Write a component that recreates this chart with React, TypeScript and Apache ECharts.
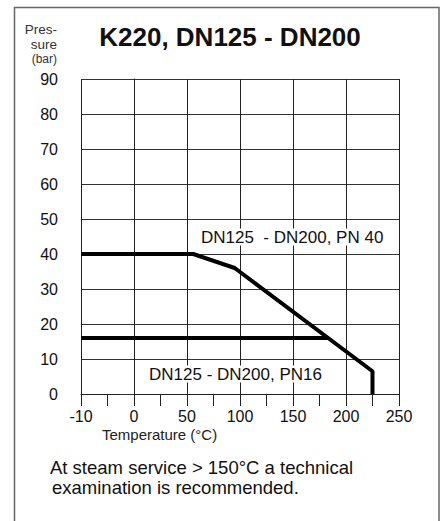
import React, { useEffect, useRef } from "react";
import * as echarts from "echarts";

// Temperature axis: labels are equally spaced; -10 occupies the slot of one 50-step
const xTickLabels = ["-10", "0", "50", "100", "150", "200", "250"];
const yTickLabels = ["0", "10", "20", "30", "40", "50", "60", "70", "80", "90"];

const pn40Temps = [-10, 56, 95, 225, 225];
const pn40Press = [40, 40, 36, 6.5, 0];

const pn16Temps = [-10, 183];
const pn16Press = [16, 16];

const pn40Label = "DN125  - DN200, PN 40";
const pn16Label = "DN125 - DN200, PN16";
const titleText = "K220, DN125 - DN200";
const yNameLines = ["Pres-", "sure", "(bar)"];
const xName = "Temperature (°C)";
const noteLines = [
  "At steam service > 150°C a technical",
  "examination is recommended.",
];

// map real temperature onto the drawing axis (the -10..0 segment is stretched to one 50 slot)
const toAxis = (t: number) => (t < 0 ? t * 5 : t);

const FONT = "'Liberation Sans', Arial, Helvetica, sans-serif";

export default function App() {
  const ref = useRef<HTMLDivElement>(null);

  useEffect(() => {
    if (!ref.current) return;
    const chart = echarts.init(ref.current, null, { renderer: "svg" });
    const pn40 = pn40Temps.map((t, i) => [toAxis(t), pn40Press[i]]);
    const pn16 = pn16Temps.map((t, i) => [toAxis(t), pn16Press[i]]);

    chart.setOption({
      animation: false,
      backgroundColor: "#ffffff",
      textStyle: { fontFamily: FONT },
      grid: { left: 81, right: 44, top: 79, bottom: 127, containLabel: false },
      xAxis: {
        type: "value",
        min: -50,
        max: 250,
        interval: 50,
        axisLine: { show: true, lineStyle: { color: "#222", width: 1 } },
        axisTick: { show: true, length: 12, lineStyle: { color: "#222", width: 1 } },
        minorTick: { show: true, splitNumber: 2, length: 12, lineStyle: { color: "#222", width: 1 } },
        splitLine: { show: true, lineStyle: { color: "#222", width: 1 } },
        axisLabel: {
          margin: 14,
          fontSize: 16,
          color: "#111",
          fontFamily: FONT,
          formatter: (v: number) => {
            const idx = Math.round((v + 50) / 50);
            return xTickLabels[idx] ?? "";
          },
        },
      },
      yAxis: {
        type: "value",
        min: 0,
        max: 90,
        interval: 10,
        axisLine: { show: true, lineStyle: { color: "#222", width: 1 } },
        axisTick: { show: true, length: 14, lineStyle: { color: "#333", width: 1 } },
        splitLine: { show: true, lineStyle: { color: "#333", width: 1 } },
        axisLabel: {
          margin: 23,
          fontSize: 16,
          color: "#111",
          fontFamily: FONT,
          formatter: (v: number) => yTickLabels[Math.round(v / 10)] ?? "",
        },
      },
      series: [
        {
          type: "line",
          data: pn40,
          symbol: "none",
          lineStyle: { color: "#000", width: 4 },
          z: 5,
        },
        {
          type: "line",
          data: pn16,
          symbol: "none",
          lineStyle: { color: "#000", width: 4 },
          z: 5,
        },
      ],
      graphic: [
        {
          type: "rect",
          shape: { x: 14.5, y: 7.5, width: 424.5, height: 540 },
          style: { fill: "none", stroke: "#666", lineWidth: 1.5 },
          silent: true,
        },
        {
          type: "text",
          x: 230,
          y: 37,
          style: {
            text: titleText,
            fontFamily: FONT,
            fontSize: 26,
            fontWeight: "bold",
            fill: "#111",
            textAlign: "center",
            textVerticalAlign: "middle",
          },
        },
        ...yNameLines.map((s, i) => ({
          type: "text",
          x: 57,
          y: [29, 44, 59][i],
          style: {
            text: s,
            fontFamily: FONT,
            fontSize: i === 2 ? 12 : 13.5,
            fill: "#333",
            textAlign: "right",
            textVerticalAlign: "middle",
          },
        })),
        {
          type: "text",
          x: 102,
          y: 434,
          style: {
            text: xName,
            fontFamily: FONT,
            fontSize: 15,
            fill: "#222",
            textAlign: "left",
            textVerticalAlign: "middle",
          },
        },
        {
          type: "text",
          x: 201,
          y: 237,
          z: 10,
          style: {
            text: pn40Label,
            fontFamily: FONT,
            fontSize: 17,
            fill: "#111",
            textAlign: "left",
            textVerticalAlign: "middle",
            backgroundColor: "#fff",
          },
        },
        {
          type: "text",
          x: 149,
          y: 374,
          z: 10,
          style: {
            text: pn16Label,
            fontFamily: FONT,
            fontSize: 17,
            fill: "#111",
            textAlign: "left",
            textVerticalAlign: "middle",
            backgroundColor: "#fff",
          },
        },
        ...noteLines.map((s, i) => ({
          type: "text",
          x: i === 0 ? 50 : 52,
          y: i === 0 ? 467 : 487,
          style: {
            text: s,
            fontFamily: FONT,
            fontSize: 18.5,
            fill: "#111",
            textAlign: "left",
            textVerticalAlign: "middle",
          },
        })),
      ],
    });
    return () => chart.dispose();
  }, []);

  return (
    <div
      ref={ref}
      style={{ position: "fixed", left: 0, top: 0, width: 443, height: 521 }}
    />
  );
}
